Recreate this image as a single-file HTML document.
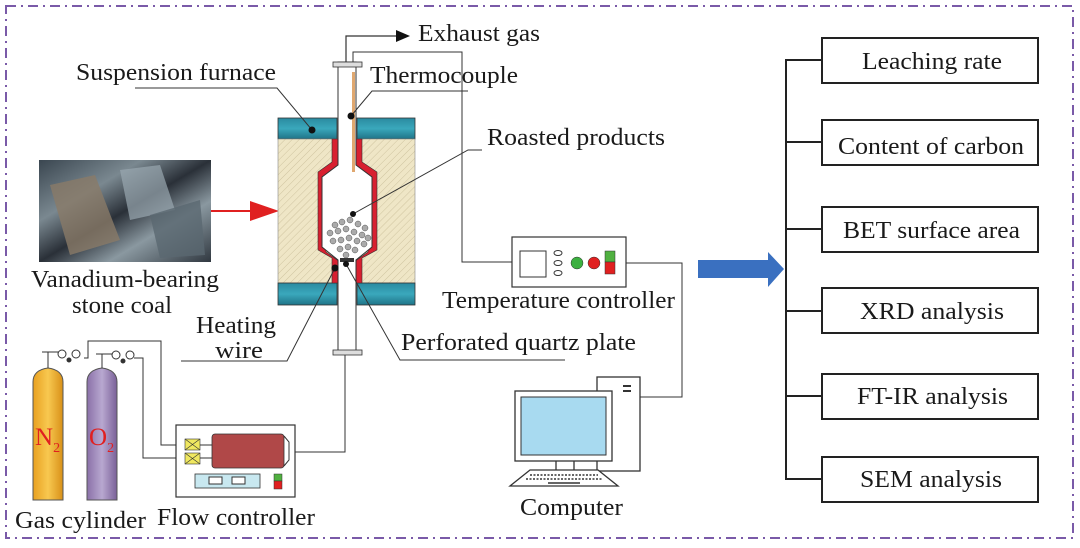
<!DOCTYPE html>
<html><head><meta charset="utf-8"><style>
html,body{margin:0;padding:0;background:#fff}
svg{display:block}
text{font-family:"Liberation Serif",serif;fill:#1a1a1a}
</style></head><body>
<svg width="1080" height="548" viewBox="0 0 1080 548" xmlns="http://www.w3.org/2000/svg">
<defs>
<pattern id="hatch" width="5" height="5" patternUnits="userSpaceOnUse" patternTransform="rotate(45)">
<rect width="5" height="5" fill="#efe6c6"/><line x1="0" y1="0" x2="0" y2="5" stroke="#cfc4a0" stroke-width="1"/></pattern>
<linearGradient id="n2" x1="0" x2="1"><stop offset="0" stop-color="#e8a020"/><stop offset=".5" stop-color="#f8c850"/><stop offset="1" stop-color="#d89018"/></linearGradient>
<linearGradient id="o2" x1="0" x2="1"><stop offset="0" stop-color="#8a70a8"/><stop offset=".5" stop-color="#b8a8d0"/><stop offset="1" stop-color="#7a6098"/></linearGradient>
<linearGradient id="teal" x1="0" y1="0" x2="0" y2="1"><stop offset="0" stop-color="#2a8aa0"/><stop offset=".5" stop-color="#3aa8bc"/><stop offset="1" stop-color="#1f7488"/></linearGradient>
<linearGradient id="coal" x1="0" y1="0" x2="1" y2="1"><stop offset="0" stop-color="#3a4650"/><stop offset=".3" stop-color="#7a8890"/><stop offset=".5" stop-color="#2a3038"/><stop offset=".7" stop-color="#8a98a0"/><stop offset="1" stop-color="#303840"/></linearGradient>
</defs>
<rect x="6" y="6" width="1067" height="532" fill="none" stroke="#7a5aa8" stroke-width="2" stroke-dasharray="10,5,2,5"/>

<rect x="39" y="160" width="172" height="102" fill="url(#coal)"/>
<path d="M50 185 L95 175 L120 240 L70 255Z" fill="#8a7a68" opacity=".8"/>
<path d="M120 170 L160 165 L175 210 L130 220Z" fill="#9aa8b0" opacity=".7"/>
<path d="M150 215 L200 200 L205 255 L160 258Z" fill="#5a6870" opacity=".8"/>
<line x1="211" y1="211" x2="255" y2="211" stroke="#e02020" stroke-width="2"/>
<polygon points="250,201 279,211 250,221" fill="#e02020"/>

<rect x="278" y="118" width="59" height="21" fill="url(#teal)" stroke="#333" stroke-width=".8"/>
<rect x="357" y="118" width="58" height="21" fill="url(#teal)" stroke="#333" stroke-width=".8"/>
<rect x="278" y="139" width="137" height="144" fill="url(#hatch)" stroke="#888" stroke-width=".6"/>
<rect x="278" y="283" width="59" height="22" fill="url(#teal)" stroke="#333" stroke-width=".8"/>
<rect x="357" y="283" width="58" height="22" fill="url(#teal)" stroke="#333" stroke-width=".8"/>
<path d="M332 139 V162 L318 172 V250 L332 258 V283 H340 V262 L326 252 V175 L340 165 V139Z" fill="#d82030" stroke="#333" stroke-width=".6"/>
<path d="M362 139 V162 L377 172 V250 L362 258 V283 H354 V262 L368 252 V175 L354 165 V139Z" fill="#d82030" stroke="#333" stroke-width=".6"/>
<path d="M338 62 V165 L322 177 V247 L338 260 V353 H356 V260 L372 247 V177 L356 165 V62Z" fill="#fff" stroke="#333" stroke-width="1"/>
<rect x="352" y="72" width="3" height="100" fill="#e0a870"/>
<rect x="333" y="62" width="29" height="5" fill="#ddd" stroke="#333" stroke-width=".8"/>
<rect x="333" y="350" width="29" height="5" fill="#ddd" stroke="#333" stroke-width=".8"/>
<rect x="340" y="258" width="14" height="4" fill="#333"/>
<g fill="#aaa" stroke="#555" stroke-width=".5">
<circle cx="335" cy="225" r="3"/><circle cx="342" cy="222" r="3"/><circle cx="350" cy="220" r="3"/><circle cx="358" cy="224" r="3"/><circle cx="365" cy="228" r="3"/>
<circle cx="330" cy="233" r="3"/><circle cx="338" cy="231" r="3"/><circle cx="346" cy="229" r="3"/><circle cx="354" cy="232" r="3"/><circle cx="362" cy="235" r="3"/><circle cx="368" cy="238" r="3"/>
<circle cx="333" cy="241" r="3"/><circle cx="341" cy="240" r="3"/><circle cx="349" cy="238" r="3"/><circle cx="357" cy="241" r="3"/><circle cx="364" cy="244" r="3"/>
<circle cx="340" cy="249" r="3"/><circle cx="348" cy="247" r="3"/><circle cx="355" cy="250" r="3"/><circle cx="346" cy="255" r="3"/>
</g>

<polyline points="346,62 346,36 398,36" fill="none" stroke="#333" stroke-width="1.2"/>
<polygon points="396,30 410,36 396,42" fill="#111"/>
<polyline points="353,62 353,52 462,52 462,262 512,262" fill="none" stroke="#333" stroke-width="1"/>

<rect x="512" y="237" width="114" height="50" fill="#fff" stroke="#333" stroke-width="1.2"/>
<rect x="520" y="251" width="26" height="26" fill="#fff" stroke="#333"/>
<ellipse cx="558" cy="253" rx="4" ry="2.5" fill="#fff" stroke="#333"/>
<ellipse cx="558" cy="263" rx="4" ry="2.5" fill="#fff" stroke="#333"/>
<ellipse cx="558" cy="273" rx="4" ry="2.5" fill="#fff" stroke="#333"/>
<circle cx="577" cy="263" r="6" fill="#3cb040" stroke="#333" stroke-width=".5"/>
<circle cx="594" cy="263" r="6" fill="#e02020" stroke="#333" stroke-width=".5"/>
<rect x="605" y="251" width="10" height="11" fill="#50b040" stroke="#333" stroke-width=".5"/>
<rect x="605" y="262" width="10" height="12" fill="#e02020" stroke="#333" stroke-width=".5"/>
<polyline points="626,263 682,263 682,397 640,397" fill="none" stroke="#333" stroke-width="1"/>

<rect x="597" y="377" width="43" height="94" fill="#fff" stroke="#333" stroke-width="1.3"/>
<rect x="623" y="385" width="8" height="2" fill="#333"/><rect x="623" y="390" width="8" height="2" fill="#333"/>
<rect x="515" y="391" width="97" height="70" fill="#fff" stroke="#333" stroke-width="1.3"/>
<rect x="521" y="397" width="85" height="58" fill="#a8daf0" stroke="#333"/>
<line x1="556" y1="461" x2="556" y2="470" stroke="#333" stroke-width="1.3"/>
<line x1="574" y1="461" x2="574" y2="470" stroke="#333" stroke-width="1.3"/>
<polygon points="530,470 598,470 618,486 510,486" fill="#fff" stroke="#333" stroke-width="1.3"/>
<line x1="530" y1="475" x2="598" y2="475" stroke="#333" stroke-width="1.5" stroke-dasharray="2,1.5"/>
<line x1="526" y1="479" x2="602" y2="479" stroke="#333" stroke-width="1.5" stroke-dasharray="2,1.5"/>
<line x1="548" y1="483" x2="580" y2="483" stroke="#333" stroke-width="1.5"/>

<path d="M33 382 Q33 370 48 368 Q63 370 63 382 V500 H33Z" fill="url(#n2)" stroke="#555"/>
<path d="M87 382 Q87 370 102 368 Q117 370 117 382 V500 H87Z" fill="url(#o2)" stroke="#555"/>
<text x="35" y="445" font-size="25" style="fill:#e02020">N<tspan font-size="14" dy="7">2</tspan></text>
<text x="89" y="445" font-size="25" style="fill:#e02020">O<tspan font-size="14" dy="7">2</tspan></text>
<g fill="none" stroke="#333" stroke-width="1">
<line x1="48" y1="368" x2="48" y2="352"/><line x1="42" y1="352" x2="60" y2="352"/>
<circle cx="62" cy="354" r="4" fill="#fff"/><circle cx="76" cy="354" r="4" fill="#fff"/><circle cx="69" cy="360" r="2" fill="#333"/>
<line x1="102" y1="368" x2="102" y2="354"/><line x1="96" y1="354" x2="114" y2="354"/>
<circle cx="116" cy="355" r="4" fill="#fff"/><circle cx="130" cy="355" r="4" fill="#fff"/><circle cx="123" cy="361" r="2" fill="#333"/>
<polyline points="84,358 88,358 88,341 161,341 161,445 185,445"/>
<polyline points="134,358 143,358 143,458 185,458"/>
</g>

<rect x="176" y="425" width="119" height="72" fill="#fff" stroke="#333" stroke-width="1.2"/>
<rect x="185" y="439" width="15" height="11" fill="#f0e860" stroke="#333" stroke-width=".6"/>
<rect x="185" y="453" width="15" height="11" fill="#f0e860" stroke="#333" stroke-width=".6"/>
<path d="M185 439 L200 450 M200 439 L185 450 M185 453 L200 464 M200 453 L185 464" stroke="#333" stroke-width=".6"/>
<line x1="200" y1="445" x2="212" y2="445" stroke="#333"/><line x1="200" y1="458" x2="212" y2="458" stroke="#333"/>
<rect x="212" y="434" width="72" height="34" rx="3" fill="#b04848" stroke="#333" stroke-width=".8"/>
<path d="M284 436 L289 442 V460 L284 466" fill="none" stroke="#333"/>
<rect x="195" y="474" width="65" height="14" fill="#c8e8f0" stroke="#333" stroke-width=".8"/>
<rect x="209" y="477" width="13" height="7" fill="#fff" stroke="#333"/>
<rect x="232" y="477" width="13" height="7" fill="#fff" stroke="#333"/>
<rect x="274" y="474" width="8" height="7" fill="#50b040" stroke="#333" stroke-width=".5"/>
<rect x="274" y="481" width="8" height="8" fill="#e02020" stroke="#333" stroke-width=".5"/>
<polyline points="295,452 345,452 345,355" fill="none" stroke="#333" stroke-width="1"/>

<g fill="none" stroke="#333" stroke-width="1">
<polyline points="135,88 277,88 312,130"/>
<polyline points="468,91 372,91 351,116"/>
<polyline points="482,150 468,150 353,214"/>
<polyline points="181,361 287,361 335,268"/>
<polyline points="346,264 400,360 565,360"/>
</g>
<g fill="#111"><circle cx="312" cy="130" r="3.5"/><circle cx="351" cy="116" r="3.5"/><circle cx="353" cy="214" r="3"/><circle cx="335" cy="268" r="3.5"/><circle cx="346" cy="264" r="3"/></g>

<g font-size="24" lengthAdjust="spacingAndGlyphs">
<text x="418" y="41" textLength="122" lengthAdjust="spacingAndGlyphs">Exhaust gas</text>
<text x="76" y="80" textLength="200" lengthAdjust="spacingAndGlyphs">Suspension furnace</text>
<text x="370" y="83" textLength="148" lengthAdjust="spacingAndGlyphs">Thermocouple</text>
<text x="487" y="145" textLength="178" lengthAdjust="spacingAndGlyphs">Roasted products</text>
<text x="31" y="287" textLength="188" lengthAdjust="spacingAndGlyphs">Vanadium-bearing</text>
<text x="72" y="313" textLength="100" lengthAdjust="spacingAndGlyphs">stone coal</text>
<text x="442" y="308" textLength="233" lengthAdjust="spacingAndGlyphs">Temperature controller</text>
<text x="196" y="333" textLength="80" lengthAdjust="spacingAndGlyphs">Heating</text>
<text x="215" y="358" textLength="48" lengthAdjust="spacingAndGlyphs">wire</text>
<text x="401" y="350" textLength="235" lengthAdjust="spacingAndGlyphs">Perforated quartz plate</text>
<text x="15" y="528" textLength="131" lengthAdjust="spacingAndGlyphs">Gas cylinder</text>
<text x="157" y="525" textLength="158" lengthAdjust="spacingAndGlyphs">Flow controller</text>
<text x="520" y="515" textLength="103" lengthAdjust="spacingAndGlyphs">Computer</text>
</g>

<polygon points="698,260 768,260 768,252 784,269 768,287 768,278 698,278" fill="#3a70c0"/>

<g fill="none" stroke="#222" stroke-width="2">
<polyline points="822,60 786,60 786,479 822,479"/>
<line x1="786" y1="142" x2="822" y2="142"/>
<line x1="786" y1="229" x2="822" y2="229"/>
<line x1="786" y1="311" x2="822" y2="311"/>
<line x1="786" y1="396" x2="822" y2="396"/>
<rect x="822" y="38" width="216" height="45"/>
<rect x="822" y="120" width="216" height="45"/>
<rect x="822" y="207" width="216" height="45"/>
<rect x="822" y="288" width="216" height="45"/>
<rect x="822" y="374" width="216" height="45"/>
<rect x="822" y="457" width="216" height="45"/>
</g>
<g font-size="24">
<text x="862" y="69" textLength="140" lengthAdjust="spacingAndGlyphs">Leaching rate</text>
<text x="838" y="154" textLength="186" lengthAdjust="spacingAndGlyphs">Content of carbon</text>
<text x="843" y="238" textLength="177" lengthAdjust="spacingAndGlyphs">BET surface area</text>
<text x="860" y="319" textLength="144" lengthAdjust="spacingAndGlyphs">XRD analysis</text>
<text x="857" y="404" textLength="151" lengthAdjust="spacingAndGlyphs">FT-IR analysis</text>
<text x="860" y="487" textLength="142" lengthAdjust="spacingAndGlyphs">SEM analysis</text>
</g>
</svg>
</body></html>
